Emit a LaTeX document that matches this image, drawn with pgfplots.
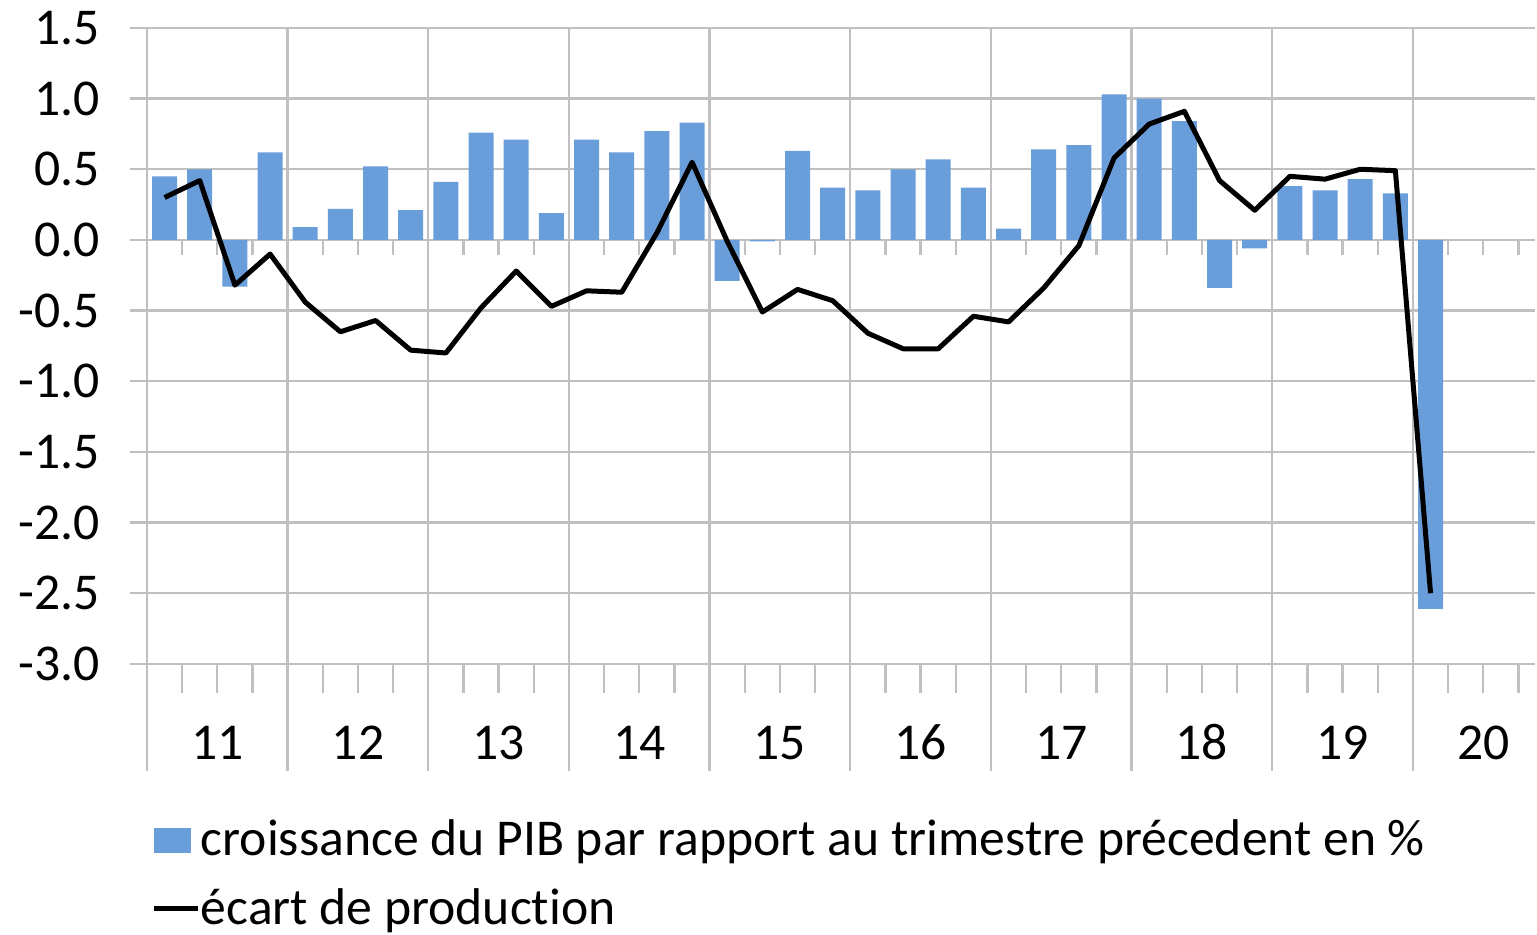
\documentclass[border=0pt]{standalone}
\usepackage{fontspec}
\setmainfont{Carlito}[Ligatures={NoCommon}]
\usepackage{pgfplots}
\pgfplotsset{compat=1.18}
\definecolor{barblue}{RGB}{106,158,218}
\definecolor{gridgray}{RGB}{192,192,192}
\begin{document}
\begin{tikzpicture}
\begin{axis}[
  scale only axis,
  width=416.4pt, height=190.8pt,
  font=\fontsize{15.5pt}{18pt}\selectfont,
  xmin=-0.5, xmax=38.97,
  ymin=-3, ymax=1.5,
  ytick={-3,-2.5,...,1.5},
  /pgf/number format/assume math mode=true,
  yticklabel style={/pgf/number format/fixed, /pgf/number format/fixed zerofill, /pgf/number format/precision=1, xshift=-5.5pt},
  axis line style={draw=none},
  ymajorgrids=true,
  xmajorgrids=false,
  grid style={gridgray, line width=0.7pt},
  tick style={gridgray, line width=0.7pt},
  tick align=outside,
  xtick pos=lower, ytick pos=left,
  major tick length=5.1pt,
  xtick={1.5,5.5,...,37.5},
  xticklabels={11,12,13,14,15,16,17,18,19,20},
  major x tick style={draw=none},
  xticklabel style={anchor=base, yshift=-23.5pt},
  minor xtick={0.5,1.5,...,38.5},
  minor tick length=8.7pt,
  extra x ticks={-0.5,3.5,...,35.5},
  extra x tick labels={,,,,,,,,,},
  extra x tick style={xmajorgrids=true, major tick length=32.1pt, major x tick style={draw=gridgray}},
  legend style={at={(0.003,-0.244)}, anchor=north west, draw=none, fill=none,
    inner sep=0pt, row sep=8.3pt, font=\fontsize{15.5pt}{18pt}\selectfont,
    nodes={inner sep=0pt},
    /tikz/every even column/.append style={column sep=1.5pt}},
  legend cell align=left,
]
\pgfplotsinvokeforeach{0.5,1.5,...,38.5}{
  \draw[gridgray, line width=0.7pt] (axis cs:#1,0) -- ([yshift=-4.5pt]axis cs:#1,0);
}
\addplot[ybar, bar width=7.5pt, fill=barblue, draw=none,
  legend image code/.code={\fill[barblue] (0pt,-3.75pt) rectangle (11.1pt,3.75pt);}]
coordinates {
(0,0.45) (1,0.50) (2,-0.33) (3,0.62)
(4,0.09) (5,0.22) (6,0.52) (7,0.21)
(8,0.41) (9,0.76) (10,0.71) (11,0.19)
(12,0.71) (13,0.62) (14,0.77) (15,0.83)
(16,-0.29) (17,-0.01) (18,0.63) (19,0.37)
(20,0.35) (21,0.50) (22,0.57) (23,0.37)
(24,0.08) (25,0.64) (26,0.67) (27,1.03)
(28,1.00) (29,0.84) (30,-0.34) (31,-0.06)
(32,0.38) (33,0.35) (34,0.43) (35,0.33)
(36,-2.61)
};
\addlegendentry{croissance du PIB par rapport au trimestre précedent en \%}
\addplot[black, line width=1.5pt, line join=round, mark=none,
  legend image code/.code={\draw[black, line width=1.5pt] (0pt,0pt) -- (13.2pt,0pt);}]
coordinates {
(0,0.30) (1,0.42) (2,-0.32) (3,-0.10)
(4,-0.44) (5,-0.65) (6,-0.57) (7,-0.78)
(8,-0.80) (9,-0.48) (10,-0.22) (11,-0.47)
(12,-0.36) (13,-0.37) (14,0.05) (15,0.55)
(16,-0.01) (17,-0.51) (18,-0.35) (19,-0.43)
(20,-0.66) (21,-0.77) (22,-0.77) (23,-0.54)
(24,-0.58) (25,-0.34) (26,-0.04) (27,0.58)
(28,0.82) (29,0.91) (30,0.42) (31,0.21)
(32,0.45) (33,0.43) (34,0.50) (35,0.49)
(36,-2.50)
};
\addlegendentry{écart de production}
\end{axis}
\path ([shift={(-44.1pt,-81.3pt)}]current axis.south west) rectangle ([shift={(0.6pt,8.1pt)}]current axis.north east);
\end{tikzpicture}
\end{document}
